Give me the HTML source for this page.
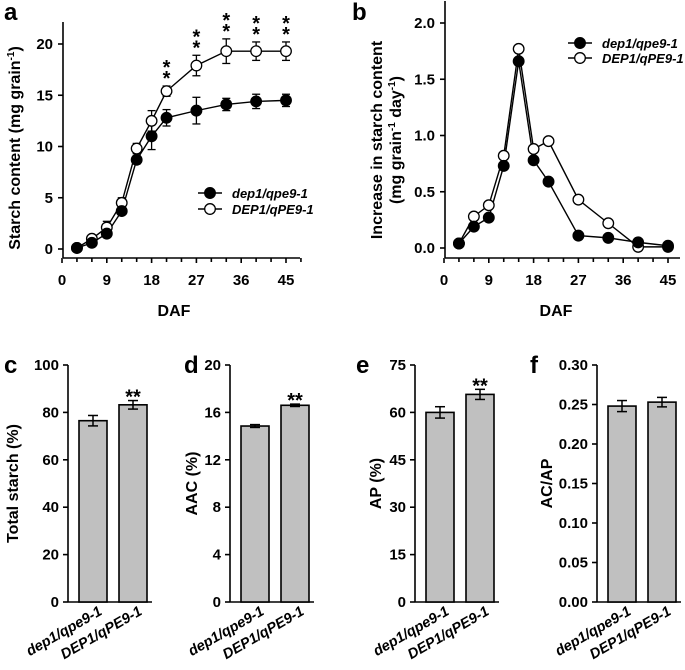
<!DOCTYPE html>
<html><head><meta charset="utf-8"><style>
body{margin:0;background:#fff}
svg{display:block;font-family:"Liberation Sans",Arial,sans-serif;font-weight:bold}
</style></head><body>
<svg id="c" width="685" height="670" viewBox="0 0 685 670"></svg>
<script>
const days=[3,6,9,12,15,18,21,27,33,39,45];
const aDep=[0.1,0.6,1.5,3.7,8.7,11.0,12.8,13.5,14.1,14.4,14.5];
const aDepErr=[0.1,0.2,0.3,0.3,0.4,1.3,0.8,1.3,0.6,0.7,0.6];
const aDEP=[0.1,1.0,2.1,4.5,9.8,12.5,15.4,17.9,19.3,19.3,19.3];
const aDEPErr=[0.1,0.2,0.6,0.5,0.5,1.0,0.5,1.0,1.2,0.9,0.9];
const aStars=[false,false,false,false,false,false,true,true,true,true,true];
const bDep=[0.04,0.19,0.27,0.73,1.66,0.78,0.59,0.11,0.09,0.05,0.02];
const bDEP=[0.04,0.28,0.38,0.82,1.77,0.88,0.95,0.43,0.22,0.01,0.01];
const barCats=["dep1/qpe9-1","DEP1/qPE9-1"];
const cVals=[76.5,83.2], cErr=[2.2,1.8];
const dVals=[14.85,16.6], dErr=[0.12,0.1];
const eVals=[60.0,65.7], eErr=[1.8,1.6];
const fVals=[0.248,0.253], fErr=[0.007,0.006];
const cTicks=["0","20","40","60","80","100"];
const dTicks=["0","4","8","12","16","20"];
const eTicks=["0","15","30","45","60","75"];
const fTicks=["0.00","0.05","0.10","0.15","0.20","0.25","0.30"];
const xTicks=["0","9","18","27","36","45"];
const aTicks=["0","5","10","15","20"];
const bTicks=["0.0","0.5","1.0","1.5","2.0"];

const svg=document.getElementById('c');
const NS='http://www.w3.org/2000/svg';
function el(tag,attrs,parent,text){const e=document.createElementNS(NS,tag);for(const k in attrs)e.setAttribute(k,attrs[k]);if(text!==undefined)e.textContent=text;(parent||svg).appendChild(e);return e;}
function line(x1,y1,x2,y2,p,w){return el('line',{x1,y1,x2,y2,stroke:'#000','stroke-width':w||1.6},p);}

function lineChart(name,ax,x0,x45,y0,yTop,yMax,ticks,xAxisY,xEnd,series,legend,ylab){
  const g=el('g',{},svg);
  
  
  const X=v=>x0+(x45-x0)*v/45;
  const Y=v=>y0-(y0-yTop)*v/yMax;
  line(ax,yTop-22,ax,xAxisY,g);
  line(ax,xAxisY,xEnd,xAxisY,g);
  ticks.forEach((t,i)=>{const v=yMax*i/(ticks.length-1);const y=Y(v);line(ax-5,y,ax,y,g);
    const tx=el('text',{x:ax-10,y:y+5,'text-anchor':'end','font-size':15},g,t);
    
    });
  for(let d=0;d<=48;d+=3){const x=X(d);if(x>xEnd+1)break;line(x,xAxisY,x,xAxisY+(d%9==0?5:4),g);}
  xTicks.forEach(t=>{const tx=el('text',{x:X(+t),y:xAxisY+27,'text-anchor':'middle','font-size':15},g,t);
    
    });
  const xt=el('text',{x:(x0+x45)/2,y:xAxisY+58,'text-anchor':'middle','font-size':16},g,'DAF');
  
  
  ylab(g);
  series.forEach(s=>{
    const pts=days.map((d,i)=>X(d)+','+Y(s.v[i])).join(' ');
    el('polyline',{points:pts,fill:'none',stroke:'#000','stroke-width':1.4},g);
    if(s.e)days.forEach((d,i)=>{const x=X(d),y1=Y(s.v[i]+s.e[i]),y2=Y(s.v[i]-s.e[i]);line(x,y1,x,y2,g,1.3);line(x-4,y1,x+4,y1,g,1.3);line(x-4,y2,x+4,y2,g,1.3);});
  });
  series.slice().reverse().forEach(s=>{days.forEach((d,i)=>{
    const m=el('circle',{cx:X(d),cy:Y(s.v[i]),r:5.3,fill:s.fill,stroke:'#000','stroke-width':1.3},g);
    
    });});
  if(series[1].stars)days.forEach((d,i)=>{if(series[1].stars[i]){const y=Y(series[1].v[i]+series[1].e[i]);
    el('text',{x:X(d),y:y-12,'text-anchor':'middle','font-size':20},g,'*');
    el('text',{x:X(d),y:y-1,'text-anchor':'middle','font-size':20},g,'*');}});
  legend.forEach(L=>{const lg=el('g',{},g);
    
    
    line(L.x-12,L.y,L.x+12,L.y,lg,1.4);
    el('circle',{cx:L.x,cy:L.y,r:5.3,fill:L.fill,stroke:'#000','stroke-width':1.3},lg);
    el('text',{x:L.x+22,y:L.y+5,'font-size':13,'font-style':'italic'},lg,L.t);});
}

lineChart('chart-a',63,62,286,249,44,20,aTicks,258,300,
 [{id:'dep1',v:aDep,e:aDepErr,fill:'#000'},{id:'DEP1',v:aDEP,e:aDEPErr,fill:'#fff',stars:aStars}],
 [{x:210,y:193,fill:'#000',t:'dep1/qpe9-1'},{x:210,y:209,fill:'#fff',t:'DEP1/qPE9-1'}],
 g=>{const t=el('text',{transform:'translate(20,148) rotate(-90)','text-anchor':'middle','font-size':16},g);
   
   
   el('tspan',{},t,'Starch content  (mg grain');el('tspan',{dy:-6,'font-size':10},t,'-1');el('tspan',{dy:6},t,')');});
lineChart('chart-b',445,444,668,248,23,2,bTicks,258,680,
 [{id:'dep1',v:bDep,fill:'#000'},{id:'DEP1',v:bDEP,fill:'#fff'}],
 [{x:580,y:43,fill:'#000',t:'dep1/qpe9-1'},{x:580,y:58,fill:'#fff',t:'DEP1/qPE9-1'}],
 g=>{const t=el('text',{transform:'translate(382,140) rotate(-90)','text-anchor':'middle','font-size':16},g,'Increase in starch content');
   
   
   const t2=el('text',{transform:'translate(401,140) rotate(-90)','text-anchor':'middle','font-size':16},g);
   el('tspan',{},t2,'(mg grain');el('tspan',{dy:-6,'font-size':10},t2,'-1');el('tspan',{dy:6},t2,' day');el('tspan',{dy:-6,'font-size':10},t2,'-1');el('tspan',{dy:6},t2,')');});

function barChart(name,ax,ticks,vals,errs,stars,ytitle,titleX){
  const g=el('g',{},svg);
  
  
  const y0=602,yTop=365,yMax=parseFloat(ticks[ticks.length-1]);
  const Y=v=>y0-(y0-yTop)*v/yMax;
  line(ax,yTop,ax,y0,g);line(ax,y0,ax+84,y0,g);
  ticks.forEach((t,i)=>{const y=Y(yMax*i/(ticks.length-1));line(ax-5,y,ax,y,g);
    const tx=el('text',{x:ax-9,y:y+5,'text-anchor':'end','font-size':15},g,t);
    
    });
  vals.forEach((v,i)=>{const bx=ax+11+i*40,w=28;
    const r=el('rect',{x:bx,y:Y(v),width:w,height:y0-Y(v),fill:'#c0c0c0',stroke:'#000','stroke-width':1.6},g);
    
    
    const cx=bx+w/2,y1=Y(v+errs[i]),y2=Y(v-errs[i]);
    line(cx,y1,cx,y2,g,1.5);line(cx-5,y1,cx+5,y1,g,1.5);line(cx-5,y2,cx+5,y2,g,1.5);
    if(stars[i])el('text',{x:cx,y:y1+3,'text-anchor':'middle','font-size':20},g,'**');
    const lb=el('text',{transform:`translate(${cx+10},${y0+12}) rotate(-30)`,'text-anchor':'end','font-size':14.5,'font-style':'italic'},g,barCats[i]);
    
    });
  const t=el('text',{transform:`translate(${titleX},${(y0+yTop)/2}) rotate(-90)`,'text-anchor':'middle','font-size':16},g,ytitle);
  
  
}
barChart('chart-c',68,cTicks,cVals,cErr,[false,true],'Total starch (%)',18);
barChart('chart-d',230,dTicks,dVals,dErr,[false,true],'AAC (%)',197);
barChart('chart-e',415,eTicks,eVals,eErr,[false,true],'AP (%)',381);
barChart('chart-f',597,fTicks,fVals,fErr,[false,false],'AC/AP',552);

[['a',4,20],['b',352,20],['c',4,373],['d',184,373],['e',356,373],['f',530,373]].forEach(p=>{
  const t=el('text',{x:p[1],y:p[2],'font-size':24},svg,p[0]);
  
  });
</script>
</body></html>
